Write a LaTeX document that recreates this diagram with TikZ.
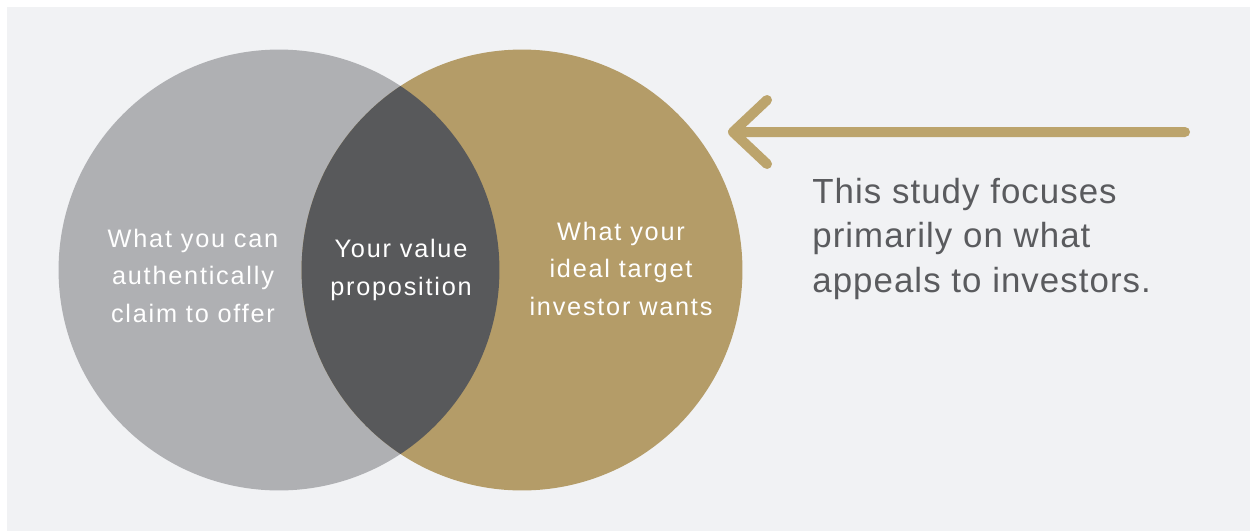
\documentclass[tikz,border=0pt]{standalone}
\usepackage{fontspec}
\setmainfont{Liberation Sans}
\newfontfamily\vennfont[LetterSpace=7]{Liberation Sans}
\newfontfamily\notefont[LetterSpace=3]{Liberation Sans}
\definecolor{bggray}{HTML}{F1F2F4}
\definecolor{claimgray}{HTML}{AFB0B3}
\definecolor{wantsgold}{HTML}{B49C68}
\definecolor{valuedark}{HTML}{58595B}
\definecolor{arrowgold}{HTML}{BCA46C}
\definecolor{notegray}{HTML}{5A5B5E}

\begin{document}
\begin{tikzpicture}[x=0.02cm,y=-0.02cm,
  venn/.style={circle,inner sep=0pt,minimum size=8.82cm},
  venntext/.style={text=white,align=center,inner sep=0pt,anchor=base,
    font={\vennfont\fontsize{14.4pt}{21.3pt}\selectfont}}]
\useasboundingbox (0,0) rectangle (1250,531);
\fill[bggray] (7,7) rectangle (1250,531);

% the two sets and their overlap
\node (claim)[venn,fill=claimgray] at (279,270) {};
\node (wants)[venn,fill=wantsgold] at (522,270) {};
\begin{scope}
\clip (claim.center) circle [radius=4.41cm];
\fill[valuedark] (wants.center) circle [radius=4.41cm];
\end{scope}

% base anchor sits on the last line
\node (claimtext)[venntext] at (193,322) {What you can\\authentically\\claim to offer};
\node (valuetext)[venntext] at (401,295) {Your value\\proposition};
\node (wantstext)[venntext] at (621,315) {What your\\ideal target\\investor wants};

% arrow and note
\coordinate (arrowtail) at (1185,132);
\coordinate (arrowtip) at (733,132);
\draw[arrowgold,line width=0.2cm,line cap=round,line join=round]
  (arrowtail) -- (arrowtip) -- +(34,-32) (arrowtip) -- +(34,32);

\node (study)[anchor=base west,align=left,text=notegray,inner sep=0pt,
  font={\notefont\fontsize{19.84pt}{25.2pt}\selectfont}] at (812,292)
  {This study focuses\\primarily on what\\appeals to investors.};
\end{tikzpicture}
\end{document}
